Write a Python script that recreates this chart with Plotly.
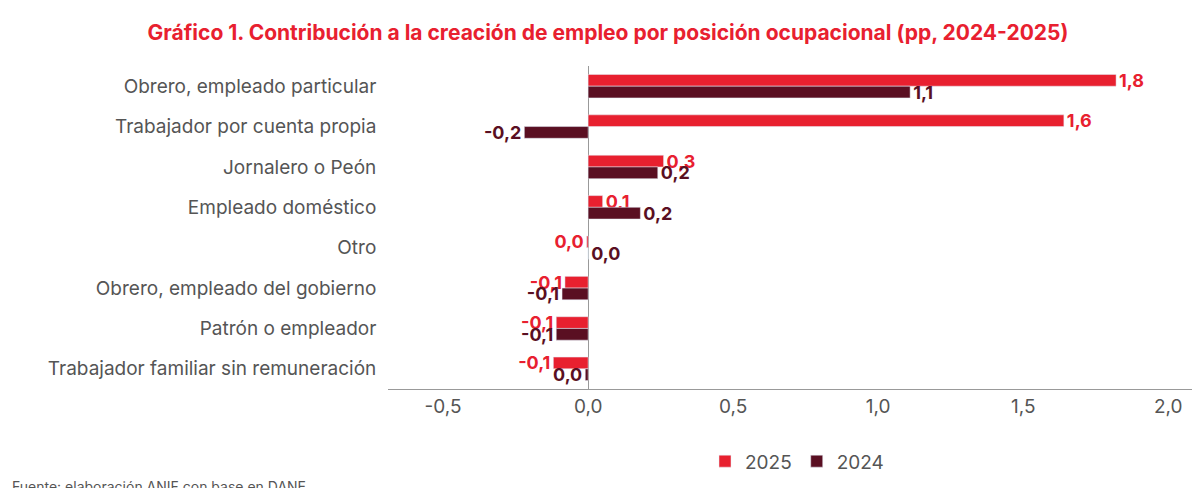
import plotly.graph_objects as go

categorias = [
    "Obrero, empleado particular",
    "Trabajador por cuenta propia",
    "Jornalero o Peón",
    "Empleado doméstico",
    "Otro",
    "Obrero, empleado del gobierno",
    "Patrón o empleador",
    "Trabajador familiar sin remuneración",
]
v2025 = [1.82, 1.64, 0.26, 0.05, -0.005, -0.08, -0.11, -0.12]
v2024 = [1.11, -0.22, 0.24, 0.18, 0.0, -0.09, -0.11, -0.01]

ROJO = "#E8202F"
VINO = "#5A0F22"

fig = go.Figure()
for nombre, vals, color in [("2025", v2025, ROJO), ("2024", v2024, VINO)]:
    fig.add_trace(go.Bar(
        y=categorias, x=vals, name=nombre, orientation="h",
        marker_color=color, texttemplate="<b>%{x:.1f}</b>", textposition="outside",
        constraintext="none",
        textfont=dict(color=color, size=18, family="Inter"), cliponaxis=False,
    ))

fig.update_layout(
    width=1200, height=488, barmode="group", bargap=0.42, bargroupgap=0,
    separators=",.", plot_bgcolor="white", paper_bgcolor="white",
    font=dict(family="Inter", color="#555555", size=19),
    margin=dict(l=380, r=2, t=58, b=107, autoexpand=False),
    title=dict(text="<b>Gráfico 1. Contribución a la creación de empleo por posición ocupacional (pp, 2024-2025)</b>",
               x=0.5, xanchor="center", y=0.965, font=dict(color=ROJO, size=21)),
    legend=dict(orientation="h", x=0.5, xanchor="center", y=-0.165, yanchor="top",
                font=dict(size=19)),
    xaxis=dict(range=[-0.69, 2.13], tickvals=[-0.5, 0, 0.5, 1, 1.5, 2],
               ticktext=["-0,5", "0,0", "0,5", "1,0", "1,5", "2,0"],
               showgrid=False, zeroline=True, zerolinecolor="#999",
               zerolinewidth=1, showline=True, linecolor="#999", ticks="", automargin=False),
    yaxis=dict(autorange="reversed", showgrid=False, ticks="", ticksuffix="  ", automargin=False),
)
fig.add_annotation(text="Fuente: elaboración ANIF con base en DANE.", xref="paper", yref="paper",
                   x=-378/818, y=-0.27, xanchor="left", yanchor="top", showarrow=False,
                   font=dict(size=14, color="#555555"))
fig.write_html("out.html")
